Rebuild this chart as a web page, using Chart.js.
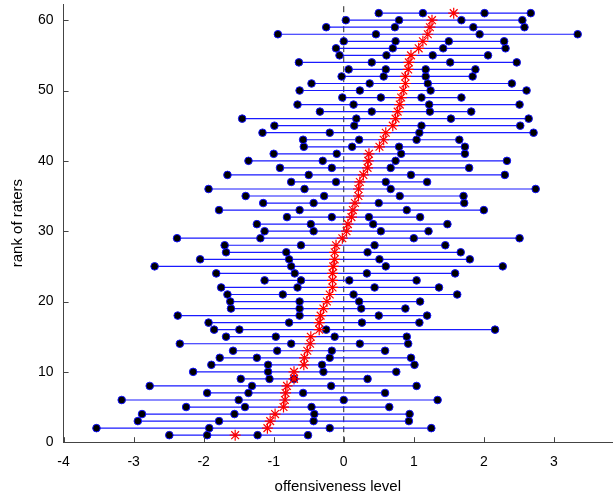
<!DOCTYPE html>
<html>
<head>
<meta charset="utf-8">
<script src="https://cdn.jsdelivr.net/npm/chart.js@4.4.1/dist/chart.umd.min.js"></script>
<style>
  html, body { margin: 0; padding: 0; background: #fff; }
  #wrap { width: 614px; height: 497px; }
</style>
</head>
<body>
<div id="wrap"><canvas id="raterChart" width="614" height="497"></canvas></div>
<script>
// rank of each rater (bottom to top)
const ranks = [1, 2, 3, 4, 5, 6, 7, 8, 9, 10, 11, 12, 13, 14, 15, 16, 17, 18, 19, 20,
  21, 22, 23, 24, 25, 26, 27, 28, 29, 30, 31, 32, 33, 34, 35, 36, 37, 38, 39, 40,
  41, 42, 43, 44, 45, 46, 47, 48, 49, 50, 51, 52, 53, 54, 55, 56, 57, 58, 59, 60, 61];

// four scores per rater, sorted low -> high
const score1 = [-2.49, -3.53, -2.94, -2.88, -2.25, -3.17, -1.95, -2.77, -1.47, -2.15,
  -1.89, -1.77, -1.58, -2.34, -1.68, -1.85, -1.93, -2.37, -1.61, -1.62,
  -1.66, -1.75, -1.13, -1.82, -2.70, -2.05, -1.68, -1.70, -2.38, -1.13,
  -1.24, -0.81, -1.78, -1.15, -1.40, -1.93, -0.75, -1.66, -0.91, -1.36,
  -1.00, -0.57, -0.58, -1.16, -0.99, -1.45, -0.34, -0.66, -0.02, -0.63,
  -0.46, -0.03, 0.07, -0.64, -0.06, -0.11, 0.00, -0.94, -0.25, 0.03, 0.50];
const score2 = [-1.95, -1.92, -1.78, -1.56, -1.41, -1.50, -1.36, -1.31, -1.06, -1.08,
  -1.08, -1.24, -0.95, -0.75, -0.97, -1.49, -0.78, -0.63, -0.63, -0.63,
  -0.87, -0.66, -0.61, -0.70, -0.75, -0.78, -0.82, -0.61, -1.19, -0.43,
  -0.47, -0.17, -0.63, -0.43, -0.28, -0.56, -0.11, -0.50, -0.17, -0.30,
  -0.10, 0.12, 0.22, -0.20, 0.15, 0.18, 0.40, 0.14, 0.53, 0.23,
  0.37, 0.57, 0.60, 0.40, 0.61, 0.70, 0.74, 0.46, 0.73, 0.79, 1.13];
const score3 = [-1.23, -0.20, -0.43, -0.42, -0.46, 0.00, -0.58, -0.18, -0.71, -0.29,
  -0.31, -0.20, -0.17, 0.23, -0.13, -0.25, 0.26, 0.50, 0.25, 0.22,
  0.14, 0.44, 0.08, 0.33, 0.60, 0.51, 0.34, 0.44, 1.00, 0.53,
  0.42, 0.36, 0.90, 0.50, 0.80, 0.67, 0.60, 0.96, 0.67, 0.74,
  0.82, 0.79, 1.04, 1.08, 1.11, 1.53, 1.23, 1.22, 1.11, 1.24,
  1.20, 1.17, 1.17, 1.52, 1.27, 1.42, 1.50, 1.94, 1.85, 1.68, 2.01];
const score4 = [-0.51, 1.25, 0.93, 0.94, 0.65, 1.34, 0.59, 1.04, 0.34, 0.75,
  1.01, 0.96, 0.59, 0.92, 0.90, 2.16, 1.08, 1.19, 0.88, 1.09,
  1.62, 1.36, 1.04, 1.59, 2.27, 1.80, 1.67, 1.45, 2.51, 1.21,
  1.48, 1.09, 2.00, 1.72, 1.71, 2.74, 1.19, 2.30, 1.79, 2.33,
  1.73, 1.73, 1.65, 2.71, 2.52, 2.64, 1.82, 2.51, 1.68, 2.61,
  2.40, 1.84, 1.88, 2.47, 2.06, 2.31, 2.29, 3.34, 2.58, 2.55, 2.67];
// mean score of each rater (red asterisk)
const meanScore = [-1.55, -1.09, -1.05, -0.98, -0.86, -0.84, -0.83, -0.81, -0.71, -0.71,
  -0.57, -0.56, -0.52, -0.48, -0.47, -0.35, -0.35, -0.33, -0.29, -0.24,
  -0.20, -0.16, -0.16, -0.16, -0.15, -0.13, -0.13, -0.11, -0.02, 0.04,
  0.06, 0.11, 0.13, 0.16, 0.21, 0.21, 0.23, 0.28, 0.34, 0.35,
  0.36, 0.51, 0.57, 0.60, 0.70, 0.74, 0.77, 0.80, 0.82, 0.85,
  0.88, 0.88, 0.92, 0.93, 0.96, 1.07, 1.13, 1.20, 1.23, 1.26, 1.57];

const xTicks = [-4, -3, -2, -1, 0, 1, 2, 3];
const yTicks = [0, 10, 20, 30, 40, 50, 60];

// range segments (min to max), broken by null points
const rangePts = [];
const dotPts = [];
const meanPts = [];
ranks.forEach((r, i) => {
  rangePts.push({ x: score1[i], y: r }, { x: score4[i], y: r }, { x: null, y: null });
  [score1, score2, score3, score4].forEach(s => dotPts.push({ x: s[i], y: r }));
  meanPts.push({ x: meanScore[i], y: r });
});

// inward tick marks like the original figure
const inwardTicks = {
  id: 'inwardTicks',
  afterDatasetsDraw(chart) {
    const { ctx, chartArea, scales } = chart;
    ctx.save();
    ctx.strokeStyle = '#444';
    ctx.lineWidth = 1;
    ctx.beginPath();
    xTicks.forEach(v => {
      const px = Math.round(scales.x.getPixelForValue(v)) + 0.5;
      ctx.moveTo(px, chartArea.bottom);
      ctx.lineTo(px, chartArea.bottom - 5);
    });
    yTicks.forEach(v => {
      const py = Math.round(scales.y.getPixelForValue(v)) + 0.5;
      ctx.moveTo(chartArea.left, py);
      ctx.lineTo(chartArea.left + 5, py);
    });
    ctx.stroke();
    ctx.restore();
  }
};

const ctx = document.getElementById('raterChart').getContext('2d');
const raterChart = new Chart(ctx, {
  type: 'scatter',
  data: {
    datasets: [
      {
        label: 'mean',
        data: meanPts,
        pointStyle: 'star',
        pointRadius: 5.5,
        borderColor: '#ff0000',
        backgroundColor: '#ff0000',
        borderWidth: 1.2,
        order: 0,
      },
      {
        label: 'scores',
        data: dotPts,
        pointStyle: 'circle',
        pointRadius: 3.8,
        backgroundColor: '#000000',
        borderColor: '#1010ff',
        borderWidth: 1,
        order: 1,
      },
      {
        label: 'range',
        data: rangePts,
        showLine: true,
        spanGaps: false,
        pointRadius: 0,
        borderColor: '#1a1aff',
        borderWidth: 1.2,
        order: 2,
      },
      {
        label: 'zero',
        data: [{ x: 0, y: 0 }, { x: 0, y: 62.3 }],
        showLine: true,
        pointRadius: 0,
        borderColor: '#222',
        borderWidth: 1,
        borderDash: [6, 4],
        order: 3,
      },
    ],
  },
  options: {
    responsive: false,
    animation: false,
    layout: { autoPadding: false, padding: { left: 9, right: 2, top: 4, bottom: 1 } },
    plugins: {
      legend: { display: false },
      tooltip: { enabled: false },
    },
    scales: {
      x: {
        type: 'linear',
        min: -4,
        max: 3.83,
        afterBuildTicks: axis => { axis.ticks = xTicks.map(v => ({ value: v })); },
        afterFit: axis => { axis.paddingLeft = 0; axis.paddingRight = 0; },
        grid: { drawOnChartArea: false, drawTicks: false },
        border: { color: '#444', width: 1 },
        ticks: { color: '#000', padding: 12, font: { family: 'Liberation Sans', size: 14 } },
        title: {
          display: true,
          text: 'offensiveness level',
          color: '#000',
          padding: { top: -5, bottom: 0 },
          font: { family: 'Liberation Sans', size: 15 },
        },
      },
      y: {
        type: 'linear',
        min: 0,
        max: 62.3,
        afterBuildTicks: axis => { axis.ticks = yTicks.map(v => ({ value: v })); },
        afterFit: axis => { axis.paddingTop = 0; axis.paddingBottom = 0; },
        grid: { drawOnChartArea: false, drawTicks: false },
        border: { color: '#444', width: 1 },
        ticks: { color: '#000', padding: 10, font: { family: 'Liberation Sans', size: 14 } },
        title: {
          display: true,
          text: 'rank of raters',
          color: '#000',
          padding: { top: 0, bottom: 1 },
          font: { family: 'Liberation Sans', size: 15 },
        },
      },
    },
  },
  plugins: [inwardTicks],
});
</script>
</body>
</html>
